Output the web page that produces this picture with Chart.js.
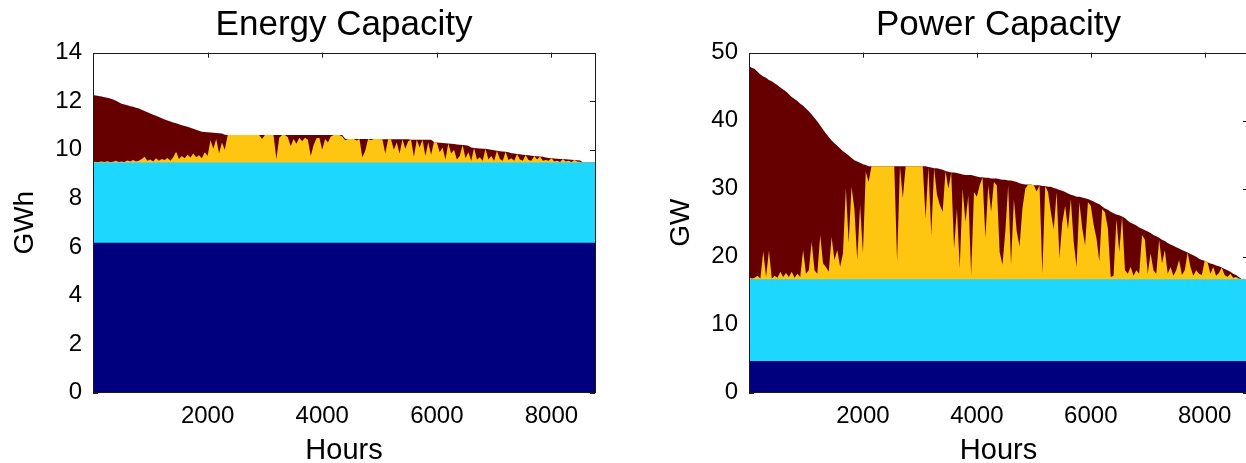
<!DOCTYPE html>
<html><head><meta charset="utf-8">
<script src="https://cdn.jsdelivr.net/npm/chart.js@4.4.1/dist/chart.umd.min.js"></script>
<style>
html,body{margin:0;padding:0;background:#fff;overflow:hidden;width:1246px;height:463px;position:relative;}
#w1{position:absolute;left:0;top:0;width:620px;height:463px;}
#w2{position:absolute;left:620px;top:0;width:660px;height:463px;}
canvas{display:block;}
</style></head><body>
<div id="w1"><canvas id="c1" width="620" height="463"></canvas></div>
<div id="w2"><canvas id="c2" width="660" height="463"></canvas></div>
<script>
// ---- data ----
const hours = [];
for (let h = 0; h <= 8750; h += 50) hours.push(h);
hours.push(8760);
const xTickHours = [2000, 4000, 6000, 8000];
const energyYTicks = [0, 2, 4, 6, 8, 10, 12, 14];
const powerYTicks = [0, 10, 20, 30, 40, 50];

// constant lower layers (top level of each)
const energyLayer1Top = 6.17;
const energyLayer2Top = 9.48;
const powerLayer1Top = 4.66;
const powerLayer2Top = 16.67;

// top of the yellow layer (GWh)
const energySplit = [
 9.52,9.50,9.50,9.52,9.50,9.53,9.50,9.51,9.55,9.50,9.52,9.50,9.56,9.52,9.58,9.52,9.55,9.62,9.72,9.55,
 9.60,9.52,9.65,9.55,9.62,9.58,9.66,9.55,9.70,9.92,9.62,9.75,9.65,9.80,9.68,9.85,9.70,9.78,9.65,9.90,
 9.75,10.40,10.05,10.45,9.86,10.30,10.00,10.61,10.61,10.61,10.61,10.61,10.61,10.61,10.61,10.61,10.61,10.61,10.61,10.45,
 10.61,10.61,10.61,10.61,9.62,10.50,10.61,10.61,10.52,10.15,10.45,10.25,10.50,10.35,10.50,10.42,9.75,10.20,10.48,10.50,
 10.00,10.45,10.30,10.55,10.61,10.61,10.61,10.55,10.40,10.45,10.45,10.45,10.38,10.45,9.70,9.95,10.45,10.40,10.45,10.45,
 10.45,10.44,9.85,10.44,10.44,10.00,10.30,9.85,10.44,10.05,10.35,10.42,9.72,10.42,10.10,10.42,9.75,10.30,9.80,10.32,
 10.30,9.90,10.10,9.60,10.26,9.85,10.00,9.60,9.75,10.20,9.65,9.90,9.55,10.08,9.60,9.70,9.55,10.04,9.60,9.75,
 9.55,9.96,9.62,9.55,9.92,9.58,9.65,9.55,9.83,9.60,9.55,9.79,9.58,9.55,9.75,9.60,9.73,9.55,9.58,9.55,
 9.65,9.52,9.55,9.50,9.62,9.52,9.55,9.50,9.58,9.52,9.50,9.48,9.48,9.48,9.48,9.48,9.48
];
// top of the dark red layer = total (GWh)
const energyTotal = [
 12.26,12.24,12.22,12.20,12.17,12.14,12.11,12.07,12.02,11.96,11.90,11.87,11.84,11.80,11.77,11.73,11.70,11.65,11.60,11.55,
 11.50,11.45,11.40,11.35,11.30,11.25,11.21,11.17,11.13,11.09,11.05,11.01,10.98,10.95,10.91,10.87,10.83,10.79,10.75,10.73,
 10.72,10.71,10.70,10.69,10.68,10.67,10.62,10.61,10.61,10.61,10.61,10.61,10.61,10.61,10.61,10.61,10.61,10.61,10.61,10.61,
 10.61,10.61,10.61,10.61,10.61,10.61,10.61,10.61,10.61,10.61,10.61,10.61,10.61,10.61,10.61,10.61,10.61,10.61,10.61,10.61,
 10.61,10.61,10.61,10.61,10.61,10.61,10.61,10.61,10.46,10.45,10.45,10.45,10.45,10.45,10.45,10.45,10.45,10.45,10.45,10.45,
 10.45,10.44,10.44,10.44,10.44,10.44,10.44,10.44,10.44,10.44,10.44,10.42,10.42,10.42,10.42,10.42,10.42,10.42,10.42,10.32,
 10.30,10.29,10.28,10.27,10.26,10.25,10.24,10.22,10.21,10.20,10.19,10.17,10.10,10.08,10.07,10.06,10.05,10.04,10.02,10.00,
 9.98,9.96,9.94,9.93,9.92,9.90,9.86,9.85,9.83,9.82,9.80,9.79,9.78,9.76,9.75,9.74,9.73,9.72,9.68,9.66,
 9.65,9.64,9.63,9.62,9.62,9.61,9.60,9.59,9.58,9.57,9.56,9.48,9.48,9.48,9.48,9.48,9.48
];
// top of the yellow layer (GW)
const powerSplit = [
 17.0,16.8,16.9,17.2,16.8,20.8,17.0,20.9,16.8,17.2,16.9,17.8,17.0,17.6,17.0,17.8,16.9,17.5,17.0,21.0,
 17.5,18.0,22.2,18.0,17.5,23.2,19.0,18.5,17.8,22.9,19.5,21.0,18.5,20.5,30.1,22.0,30.3,27.0,19.5,27.6,
 20.5,32.5,31.0,33.3,33.3,33.3,33.3,33.3,33.3,33.3,33.3,33.3,19.3,33.3,28.6,33.3,33.3,33.3,33.3,33.3,
 33.3,33.3,25.6,33.2,23.2,33.0,29.1,27.6,26.6,32.6,30.0,32.4,21.2,27.1,18.3,30.0,25.1,29.0,17.3,29.5,
 28.8,30.5,31.7,22.7,30.5,26.6,31.0,30.5,20.7,18.8,23.7,30.5,18.8,28.5,23.7,21.5,27.1,30.0,30.6,30.6,
 30.5,29.6,30.5,17.5,30.4,29.5,26.5,24.0,29.5,19.8,25.0,27.5,24.0,28.5,22.2,18.5,28.0,24.2,21.7,28.0,
 27.5,24.7,22.7,19.3,27.0,26.5,24.2,17.0,17.2,25.5,20.7,25.9,18.0,17.5,18.5,17.2,18.0,17.5,23.2,22.5,
 17.5,20.5,18.0,17.5,22.5,19.0,21.0,17.5,18.5,17.2,18.0,19.5,17.3,18.0,20.6,18.5,17.2,18.0,17.5,17.3,
 19.4,19.2,17.5,18.5,17.2,17.6,18.4,17.3,17.0,17.5,16.9,17.0,16.8,16.67,16.67,16.67,16.67
];
// top of the dark red layer = total (GW)
const powerTotal = [
 48.0,47.8,47.6,47.2,46.8,46.5,46.3,46.0,45.8,45.5,45.2,44.9,44.6,44.3,43.9,43.5,43.2,42.9,42.5,42.2,
 41.8,41.4,40.9,40.4,39.9,39.3,38.7,38.1,37.6,37.1,36.7,36.3,35.9,35.5,35.2,34.9,34.5,34.2,34.0,33.8,
 33.6,33.5,33.3,33.3,33.3,33.3,33.3,33.3,33.3,33.3,33.3,33.3,33.3,33.3,33.3,33.3,33.3,33.3,33.3,33.3,
 33.3,33.3,33.3,33.2,33.1,33.0,33.0,32.9,32.8,32.6,32.5,32.4,32.4,32.3,32.2,32.1,32.0,32.0,32.0,31.9,
 31.8,31.7,31.7,31.6,31.6,31.5,31.5,31.5,31.4,31.3,31.3,31.2,31.2,31.1,31.0,30.8,30.7,30.6,30.6,30.6,
 30.5,30.5,30.5,30.4,30.4,30.3,30.3,30.1,30.0,29.8,29.7,29.5,29.3,29.1,29.0,28.8,28.8,28.7,28.6,28.5,
 28.3,28.1,27.9,27.7,27.4,27.1,26.9,26.6,26.4,26.2,26.1,25.9,25.7,25.3,25.0,24.8,24.6,24.3,24.1,23.9,
 23.7,23.5,23.2,23.0,22.8,22.5,22.3,22.0,21.8,21.6,21.4,21.2,21.0,20.8,20.6,20.4,20.2,20.0,19.7,19.5,
 19.4,19.2,19.0,18.9,18.7,18.6,18.4,18.2,18.0,17.8,17.5,17.3,17.0,16.67,16.67,16.67,16.67
];

[['energySplit',energySplit],['energyTotal',energyTotal],['powerSplit',powerSplit],['powerTotal',powerTotal]].forEach(([n,a])=>{
  if (a.length !== hours.length) throw new Error(n + ' length ' + a.length + ' vs ' + hours.length);
});

// ---- styling ----
const FONT = "'Liberation Sans', Arial, Helvetica, sans-serif";
const COLORS = { navy: '#00007f', cyan: '#1dd7fe', gold: '#fec610', maroon: '#660000' };
const AXIS_COLOR = '#1a1a1a';

const framePlugin = {
  id: 'matlabFrame',
  beforeDatasetsDraw(chart) {
    const {ctx, chartArea: a, scales} = chart;
    ctx.save();
    ctx.strokeStyle = AXIS_COLOR;
    ctx.lineWidth = 1;
    ctx.beginPath();
    scales.x.ticks.forEach(t => {
      const px = Math.round(scales.x.getPixelForValue(t.value)) + 0.5;
      ctx.moveTo(px, a.bottom); ctx.lineTo(px, a.bottom - 5);
      ctx.moveTo(px, a.top); ctx.lineTo(px, a.top + 5);
    });
    scales.y.ticks.forEach(t => {
      const py = Math.round(scales.y.getPixelForValue(t.value)) + 0.5;
      ctx.moveTo(a.left, py); ctx.lineTo(a.left + 5, py);
      ctx.moveTo(a.right, py); ctx.lineTo(a.right - 5, py);
    });
    ctx.stroke();
    ctx.restore();
  },
  afterDatasetsDraw(chart) {
    const {ctx, chartArea: a} = chart;
    ctx.save();
    ctx.strokeStyle = AXIS_COLOR;
    ctx.lineWidth = 1;
    ctx.strokeRect(Math.round(a.left) + 0.5, Math.round(a.top) + 0.5,
                   Math.round(a.right - a.left), Math.round(a.bottom - a.top) - 1);
    ctx.restore();
  }
};

function layerDataset(label, points, color, order) {
  return {
    label, data: points, order,
    backgroundColor: color, borderColor: 'rgba(0,0,0,0)', borderWidth: 0,
    fill: 'origin', pointRadius: 0, pointHoverRadius: 0, tension: 0
  };
}

function makeChart(canvasId, cfg) {
  const totalPts = hours.map((h, i) => ({x: h, y: cfg.total[i]}));
  const splitPts = hours.map((h, i) => ({x: h, y: cfg.split[i]}));
  const layer2Pts = [{x: 0, y: cfg.layer2}, {x: 8760, y: cfg.layer2}];
  const layer1Pts = [{x: 0, y: cfg.layer1}, {x: 8760, y: cfg.layer1}];
  return new Chart(document.getElementById(canvasId), {
    type: 'line',
    data: {
      datasets: [
        layerDataset('Layer 4', totalPts, COLORS.maroon, 4),
        layerDataset('Layer 3', splitPts, COLORS.gold, 3),
        layerDataset('Layer 2', layer2Pts, COLORS.cyan, 2),
        layerDataset('Layer 1', layer1Pts, COLORS.navy, 1)
      ]
    },
    options: {
      responsive: false, animation: false, devicePixelRatio: 1,
      events: [],
      layout: { padding: { left: 0, right: cfg.padRight, top: 0, bottom: 0 } },
      plugins: {
        legend: { display: false },
        tooltip: { enabled: false },
        title: {
          display: true, text: cfg.title, fullSize: false, color: '#000',
          font: { family: FONT, size: 35, weight: 'normal' },
          padding: { top: 4, bottom: 6.7 }
        }
      },
      scales: {
        x: {
          type: 'linear', min: 0, max: 8760,
          afterBuildTicks: s => { s.ticks = xTickHours.map(v => ({value: v})); },
          afterFit: s => { s.height = 463 - 392.7; },
          grid: { display: false, drawTicks: false },
          border: { display: false },
          ticks: { color: '#000', font: { family: FONT, size: 24 }, padding: 9,
                   maxRotation: 0, autoSkip: false, callback: v => String(v) },
          title: { display: true, text: 'Hours', color: '#000',
                   font: { family: FONT, size: 29, lineHeight: 0.85 }, padding: 0 }
        },
        y: {
          type: 'linear', min: 0, max: cfg.yTicks[cfg.yTicks.length - 1],
          afterBuildTicks: s => { s.ticks = cfg.yTicks.map(v => ({value: v})); },
          afterFit: s => { s.width = cfg.plotLeft; },
          grid: { display: false, drawTicks: false },
          border: { display: false },
          ticks: { color: '#000', font: { family: FONT, size: 24 }, padding: 11,
                   callback: v => String(v) },
          title: { display: true, text: cfg.yTitle, color: '#000',
                   font: { family: FONT, size: 28 }, padding: { top: cfg.yTitlePad, bottom: 0 } }
        }
      }
    },
    plugins: [framePlugin]
  });
}

makeChart('c1', {
  title: 'Energy Capacity', yTitle: 'GWh', yTicks: energyYTicks,
  total: energyTotal, split: energySplit, layer1: energyLayer1Top, layer2: energyLayer2Top,
  plotLeft: 93, padRight: 25, yTitlePad: 8
});
makeChart('c2', {
  title: 'Power Capacity', yTitle: 'GW', yTicks: powerYTicks,
  total: powerTotal, split: powerSplit, layer1: powerLayer1Top, layer2: powerLayer2Top,
  plotLeft: 129, padRight: 32, yTitlePad: 44
});
</script>
</body></html>
